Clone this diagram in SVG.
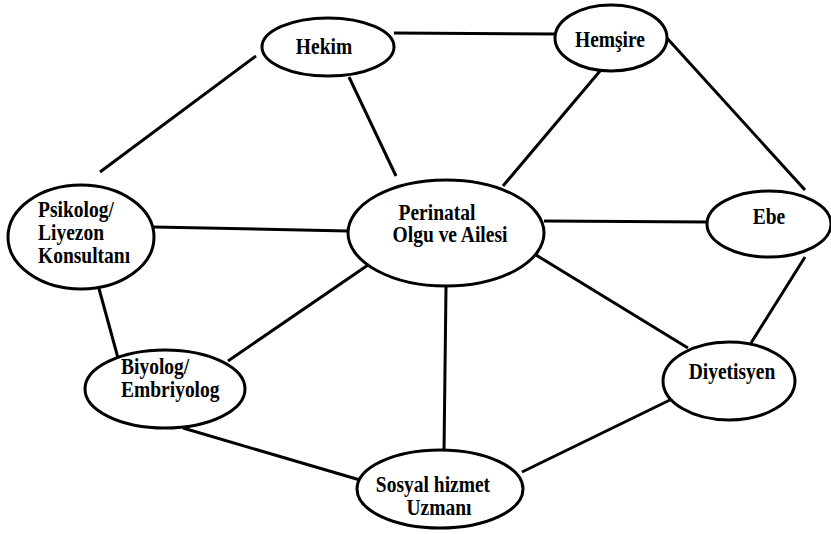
<svg xmlns="http://www.w3.org/2000/svg" width="831" height="534" viewBox="0 0 831 534">
<style>
.n{fill:#fff;stroke:#000;stroke-width:3}
.c line{stroke:#000;stroke-width:3}
text{font-family:"Liberation Serif","Times New Roman",serif;font-weight:bold;font-size:19.5px;fill:#000}
.m{text-anchor:middle}
</style>
<rect width="831" height="534" fill="#fff"/>
<g id="connectors" class="c">
<line x1="394" y1="33" x2="556" y2="34"/>
<line x1="256" y1="56" x2="100" y2="172"/>
<line x1="349" y1="77" x2="396" y2="176"/>
<line x1="600" y1="71" x2="503" y2="186"/>
<line x1="666" y1="37" x2="805" y2="190"/>
<line x1="154" y1="227" x2="348" y2="231"/>
<line x1="544" y1="221" x2="707" y2="222"/>
<line x1="98" y1="285" x2="118" y2="358"/>
<line x1="368" y1="265" x2="228" y2="361"/>
<line x1="446" y1="287" x2="444" y2="452"/>
<line x1="536" y1="255" x2="688" y2="348"/>
<line x1="805" y1="257" x2="751" y2="343"/>
<line x1="183" y1="428" x2="360" y2="480"/>
<line x1="522" y1="472" x2="672" y2="399"/>
</g>
<g id="hekim"><ellipse class="n" cx="328" cy="47" rx="66" ry="29"/><text class="m" x="324" y="0" transform="matrix(1 0 0 1.13 0 54)">Hekim</text></g>
<g id="hemsire"><ellipse class="n" cx="611" cy="38" rx="56" ry="33"/><text class="m" x="610" y="0" transform="matrix(1 0 0 1.13 0 47)">Hemşire</text></g>
<g id="psikolog"><ellipse class="n" cx="81" cy="237" rx="73" ry="52"/><text x="38" y="0" transform="matrix(1 0 0 1.13 0 217)">Psikolog/</text><text x="38" y="0" transform="matrix(1 0 0 1.13 0 240)">Liyezon</text><text x="38" y="0" transform="matrix(1 0 0 1.13 0 263)">Konsultanı</text></g>
<g id="perinatal"><ellipse class="n" cx="446" cy="233" rx="98" ry="53"/><text class="m" x="437" y="0" transform="matrix(1 0 0 1.13 0 220)">Perinatal</text><text class="m" x="450" y="0" transform="matrix(1 0 0 1.13 0 242)">Olgu ve Ailesi</text></g>
<g id="ebe"><ellipse class="n" cx="769" cy="224" rx="62" ry="33"/><text class="m" x="769" y="0" transform="matrix(1 0 0 1.13 0 224)">Ebe</text></g>
<g id="biyolog"><ellipse class="n" cx="165" cy="389" rx="80" ry="39"/><text x="121" y="0" transform="matrix(1 0 0 1.13 0 374)">Biyolog/</text><text x="121" y="0" transform="matrix(1 0 0 1.13 0 397)">Embriyolog</text></g>
<g id="diyetisyen"><ellipse class="n" cx="729" cy="381" rx="66" ry="39"/><text class="m" x="732" y="0" transform="matrix(1 0 0 1.13 0 379)">Diyetisyen</text></g>
<g id="sosyal"><ellipse class="n" cx="440" cy="489" rx="83" ry="39"/><text class="m" x="433" y="0" transform="matrix(1 0 0 1.13 0 492)">Sosyal hizmet</text><text class="m" x="439" y="0" transform="matrix(1 0 0 1.13 0 515)">Uzmanı</text></g>
</svg>
